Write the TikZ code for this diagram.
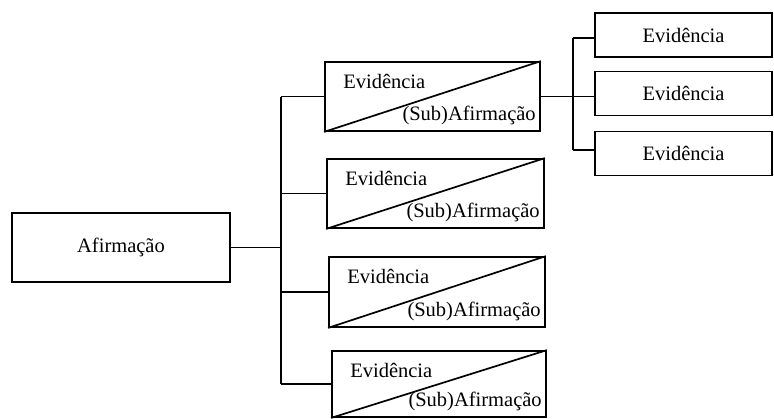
\documentclass[tikz,border=0pt]{standalone}
\usepackage{fontspec}
\setmainfont{Liberation Serif}
\begin{document}
\begin{tikzpicture}[x=1pt,y=-1pt,
  box/.style={draw, line width=1.8pt, rectangle, inner sep=0pt},
  midbox/.style={box, minimum width=216pt, minimum height=69pt},
  rbox/.style={box, minimum width=177pt, minimum height=44pt},
  ln/.style={line width=1.7pt},
  diag/.style={line width=1.7pt},
  lbl/.style={inner sep=0pt},
  font=\fontsize{20.5}{24}\selectfont]
\useasboundingbox (0,0) rectangle (774,418);
% main claim
\node[box, minimum width=218pt, minimum height=69pt] (a) at (121,247.5) {Afirmação};
% middle column
\node[midbox, minimum width=215pt] (m1) at (432.5,96.5) {};
\node[midbox, minimum width=217pt] (m2) at (435.5,193.5) {};
\node[midbox, minimum height=70pt] (m3) at (437,292) {};
\node[midbox, minimum width=214pt, minimum height=66pt] (m4) at (439,384) {};
\foreach \m in {m1,m2,m3,m4}{
  \draw[diag] (\m.south west) -- (\m.north east);
  \node[lbl, anchor=west] (\m e) at ([shift={(19,20)}]\m.north west) {Evidência};
  \node[lbl, anchor=east] (\m s) at ([shift={(-5,-16)}]\m.south east) {(Sub)Afirmação};
}
% right column
\node[rbox] (r1) at (683.5,35) {Evidência};
\node[rbox] (r2) at (683.5,93.5) {Evidência};
\node[rbox] (r3) at (683.5,153.5) {Evidência};
% trunk connectors
\coordinate (t1) at (281,96.5);
\coordinate (t4) at (281,384);
\draw[ln] (a.east) -- (a.east -| t1);
\draw[ln] (t1) -- (t4);
\draw[ln] (t1) -- (m1.west);
\draw[ln] (m2.west -| t1) -- (m2.west);
\draw[ln] (m3.west -| t1) -- (m3.west);
\draw[ln] (t4) -- (m4.west);
% right connectors
\coordinate (v1) at (573,38);
\coordinate (v3) at (573,150);
\draw[ln] (v1) -- (v3);
\draw[ln] (m1.east) -- (m1.east -| r2.west);
\draw[ln] (v1) -- (v1 -| r1.west);
\draw[ln] (v3) -- (v3 -| r3.west);
\end{tikzpicture}
\end{document}
